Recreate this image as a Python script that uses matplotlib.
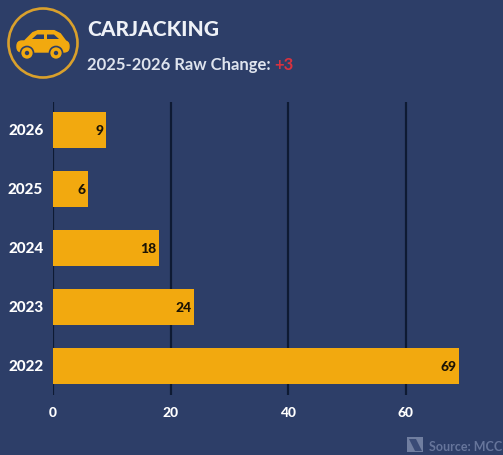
import matplotlib
matplotlib.use('Agg')
import matplotlib.pyplot as plt
from matplotlib.patches import Circle, Rectangle, FancyBboxPatch, Polygon
from matplotlib.transforms import ScaledTranslation

years = ['2022', '2023', '2024', '2025', '2026']
counts = [69, 24, 18, 6, 9]
xticks = [0, 20, 40, 60]

W, H = 503, 456
BG = '#2d3e68'
GOLD = '#f2a90f'

plt.rcParams['font.family'] = ['Lato', 'DejaVu Sans']

fig = plt.figure(figsize=(W / 100, H / 100), dpi=100, facecolor=BG)

# chart area, in pixels of the picture
left, right, top, bottom = 53, 495, 102.5, 395.5
ax = fig.add_axes([left / W, 1 - bottom / H, (right - left) / W, (bottom - top) / H])
ax.set_facecolor('none')
ax.barh(years, counts, height=0.595, color=GOLD, zorder=3)
ax.set_xlim(0, (right - left) / 5.88)
ax.set_ylim(-0.483, 4.483)
ax.set_xticks(xticks)
ax.xaxis.grid(True, color='#0e1a33', linewidth=1.6, zorder=1)
ax.set_axisbelow(True)
ax.tick_params(length=0, labelsize=10, labelcolor='white', pad=8)
ax.tick_params(axis='y', labelsize=11, pad=7)
up = ScaledTranslation(0, 1.5 / 100, fig.dpi_scale_trans)
for lab in ax.get_xticklabels() + ax.get_yticklabels():
    lab.set_fontweight('black')
for lab in ax.get_yticklabels():
    lab.set_transform(lab.get_transform() + up)
for s in ax.spines.values():
    s.set_visible(False)
for i, c in enumerate(counts):
    ax.text(c - 0.45, i, str(c), ha='right', va='center', fontsize=10,
            fontweight='black', color='#1c1405', zorder=4)

# header and icon, drawn in pixel coordinates
ov = fig.add_axes([0, 0, 1, 1])
ov.set_xlim(0, W)
ov.set_ylim(H, 0)
ov.axis('off')
ov.patch.set_alpha(0)

ov.add_patch(Circle((43, 44), 34.5, fill=False, ec='#d9a02c', lw=1.9))
ov.add_patch(Polygon([(25, 42), (33, 34), (38, 32), (54, 32), (60, 35), (66, 43)], closed=True, fc=GOLD, ec=GOLD, lw=1.5))
ov.add_patch(FancyBboxPatch((17, 42), 52, 11, boxstyle='round,pad=0,rounding_size=5', fc=GOLD, ec=GOLD, lw=1))
ov.add_patch(Polygon([(32, 40), (37, 35.5), (44, 35.5), (44, 40)], closed=True, fc=BG, ec='none'))
ov.add_patch(Polygon([(47, 35.5), (54, 35.5), (59, 40), (47, 40)], closed=True, fc=BG, ec='none'))
for cx in (27, 56):
    ov.add_patch(Circle((cx, 54), 6.5, fc=GOLD, ec=BG, lw=1.2))
    ov.add_patch(Circle((cx, 54), 2.2, fc=BG, ec='none'))

ov.text(87, 30, 'CARJACKING', fontsize=15, fontweight='black', color='#eef1f7', va='center')
t = ov.text(87, 65, '2025-2026 Raw Change: ', fontsize=12, fontweight='bold', color='#dfe4ee', va='center')
fig.canvas.draw()
bb = t.get_window_extent()
ov.text(bb.x1 * W / fig.bbox.width, 65, '+3', fontsize=12, fontweight='bold', color='#d8323f', va='center')

# source credit, cut at MCC where the picture ends
ov.add_patch(Rectangle((407, 438), 16, 15, fc='#8794b3', ec='none', alpha=0.75))
ov.add_patch(Polygon([(409, 440), (416, 440), (422, 452), (415, 452)], closed=True, fc='#3a4b76', ec='none'))
ov.text(429, 447, 'Source: MCC', fontsize=9, fontweight='bold', color='#66759b', va='center')

fig.savefig('out.png', dpi=100, facecolor=BG)
